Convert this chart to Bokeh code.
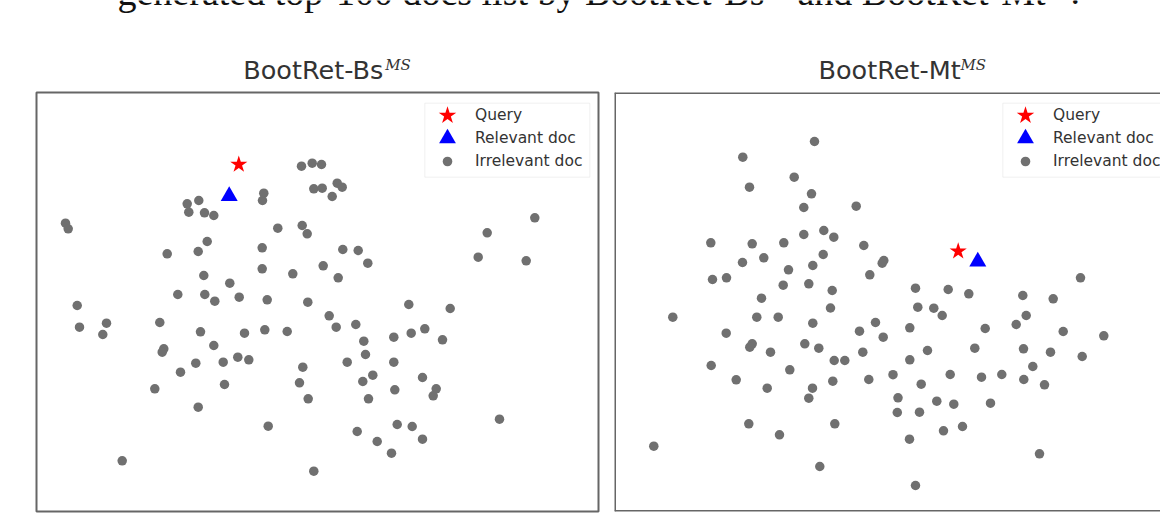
from bokeh.plotting import figure
from bokeh.models import Range1d, Label, Legend, LegendItem, BoxAnnotation, Span
from bokeh.layouts import row, column
from bokeh.embed import file_html
from bokeh.resources import INLINE

# ---------------- data (embedding coordinates) ----------------
bs_x = [301.0, 311.7, 321.0, 313.3, 321.7, 336.7, 341.7, 331.7, 263.3, 262.0,
        186.7, 198.3, 188.3, 204.0, 213.3, 65.0, 67.7, 277.3, 301.7, 306.7,
        206.7, 197.7, 166.7, 261.7, 342.3, 357.7, 367.3, 261.7, 292.3, 322.7,
        337.7, 203.3, 229.3, 534.3, 486.7, 477.7, 525.7, 76.7, 79.0, 106.0,
        102.3, 177.3, 204.3, 214.3, 238.7, 266.7, 307.3, 159.3, 200.0, 244.0,
        264.3, 286.7, 328.7, 335.7, 355.3, 363.3, 393.3, 163.3, 161.7, 213.3,
        195.3, 222.7, 237.3, 248.3, 180.0, 224.0, 154.3, 197.7, 302.3, 299.0,
        307.7, 346.7, 365.0, 393.3, 372.3, 362.3, 368.0, 394.3, 267.7, 356.7,
        376.7, 391.0, 396.7, 121.7, 313.3, 408.3, 449.7, 410.7, 424.3, 442.0,
        422.0, 435.7, 432.7, 499.0, 411.7, 422.0]
bs_y = [165.7, 162.7, 164.0, 188.3, 187.7, 182.7, 186.7, 196.0, 192.7, 200.0,
        203.3, 200.0, 211.7, 212.3, 215.0, 222.7, 228.3, 227.7, 225.0, 233.3,
        241.0, 251.0, 253.3, 247.3, 249.0, 250.0, 262.7, 268.3, 273.3, 265.3,
        277.3, 275.0, 282.7, 217.3, 232.3, 256.7, 260.3, 305.0, 326.7, 322.7,
        334.0, 294.0, 294.0, 300.7, 296.7, 299.3, 301.7, 322.0, 331.3, 332.7,
        329.3, 331.0, 315.3, 326.7, 324.0, 340.7, 336.7, 348.3, 351.7, 345.0,
        362.7, 361.7, 356.7, 359.3, 371.7, 384.0, 388.3, 406.7, 366.7, 382.3,
        398.3, 361.7, 354.0, 361.7, 374.7, 381.0, 398.3, 389.3, 425.7, 431.0,
        441.0, 452.7, 424.0, 460.3, 470.7, 304.0, 308.0, 332.7, 328.3, 339.3,
        377.0, 388.3, 395.3, 418.7, 426.0, 438.7]
bs_query = (238.3, 164.0)
bs_relevant = (228.7, 195.5)

mt_x = [814.0, 742.3, 749.0, 793.7, 811.0, 803.3, 855.7, 710.3, 751.7, 783.3,
        803.3, 823.3, 833.3, 863.3, 742.0, 763.3, 822.7, 812.3, 788.0, 883.3,
        881.7, 712.0, 726.0, 782.7, 808.3, 831.7, 869.3, 761.0, 830.0, 915.0,
        947.7, 968.3, 1022.3, 1052.7, 1080.0, 917.3, 933.3, 941.7, 1025.7, 1015.7,
        1062.7, 1103.3, 984.7, 909.3, 672.3, 756.3, 777.7, 812.3, 725.7, 751.7,
        749.3, 770.0, 804.3, 818.3, 859.0, 875.0, 882.7, 862.3, 833.7, 844.3,
        710.7, 789.3, 735.7, 766.7, 812.0, 808.3, 832.3, 868.3, 892.5, 897.5,
        896.8, 748.3, 779.0, 834.3, 653.3, 819.3, 927.0, 909.3, 974.3, 1023.0,
        1050.0, 1081.7, 920.7, 949.7, 981.0, 1001.3, 1023.3, 1032.3, 1044.0, 919.0,
        936.3, 953.3, 990.0, 943.0, 962.0, 909.0, 1039.0, 915.0]
mt_y = [141.0, 156.7, 186.7, 176.7, 193.3, 207.0, 205.7, 242.3, 243.3, 242.3,
        234.0, 230.0, 236.7, 245.0, 262.0, 257.3, 254.0, 265.0, 269.3, 260.0,
        262.7, 279.0, 277.3, 284.7, 283.3, 290.0, 274.3, 297.7, 307.5, 287.7,
        289.0, 293.3, 295.0, 298.3, 277.3, 306.7, 307.7, 315.0, 315.0, 324.0,
        331.0, 335.3, 328.0, 327.3, 316.7, 316.7, 316.7, 322.7, 332.7, 343.3,
        346.7, 351.7, 343.3, 347.7, 330.7, 322.0, 336.7, 351.7, 360.0, 360.0,
        365.0, 369.3, 379.3, 387.7, 387.7, 397.7, 380.7, 379.0, 374.2, 397.3,
        412.0, 423.3, 434.3, 423.3, 445.7, 466.0, 350.0, 359.3, 347.7, 348.3,
        351.7, 356.0, 383.7, 374.0, 376.7, 374.0, 379.0, 366.0, 384.3, 411.7,
        400.7, 403.7, 402.7, 430.3, 426.0, 438.7, 453.3, 485.0]
mt_query = (957.7, 250.7)
mt_relevant = (977.3, 261.0)

titles = ["BootRet-Bs", "BootRet-Mt"]
title_sup = "MS"
legend_labels = ["Query", "Relevant doc", "Irrelevant doc"]
caption_parts = ["generated top-100 docs list by BootRet-Bs", "and BootRet-Mt", "."]

# ---------------- styles ----------------
GRAY = "#707070"
BORDER = "#666666"
TEXT = "#333333"
SANS = "DejaVu Sans"

STRIP_H = 90
PANEL_H = 513 - STRIP_H
Y_TOP, Y_BOT = 92, 511

# ---------------- top strip: caption + panel titles ----------------
strip = figure(width=1160, height=STRIP_H, x_range=Range1d(0, 1160),
               y_range=Range1d(STRIP_H, 0), x_axis_type=None, y_axis_type=None,
               toolbar_location=None, output_backend="svg", min_border=0,
               outline_line_color=None, background_fill_color="white",
               border_fill_color="white")
strip.grid.visible = False
for txt, x in zip(caption_parts, [117, 797, 1070]):
    strip.add_layout(Label(x=x, y=-9, text=txt, text_font="Liberation Serif",
                           text_font_size="38px", text_color="#111111",
                           text_baseline="alphabetic", text_align="left"))
for x in [765, 1047]:
    strip.add_layout(Label(x=x, y=-20, text=title_sup, text_font="Liberation Serif",
                           text_font_style="italic", text_font_size="24px",
                           text_color="#111111", text_baseline="alphabetic"))
for title, tx in zip(titles, [242.7, 818.0]):
    strip.add_layout(Label(x=tx, y=69, text=title, text_font=SANS,
                           text_font_size="25.5px", text_color=TEXT,
                           text_baseline="alphabetic"))
    strip.add_layout(Label(x=tx + 142, y=64, text=title_sup, text_font="DejaVu Serif",
                           text_font_style="italic", text_font_size="15px",
                           text_color=TEXT, text_baseline="alphabetic"))


def make_panel(xs, ys, q, r, x0, x1, width, bl, br):
    p = figure(width=width, height=PANEL_H, x_range=Range1d(x0, x1),
               y_range=Range1d(Y_BOT, Y_TOP), x_axis_type=None, y_axis_type=None,
               toolbar_location=None, output_backend="svg",
               min_border_left=bl, min_border_right=br, min_border_top=2,
               min_border_bottom=2, background_fill_color="white",
               border_fill_color="white")
    p.grid.visible = False
    gr = p.scatter(xs, ys, size=9.5, color=GRAY, line_color=None)
    rr = p.scatter([r[0]], [r[1]], marker="triangle", size=17, color="#0000ff",
                   line_color=None)
    qr = p.scatter([q[0]], [q[1]], marker="star", size=18, color="#ff0000",
                   line_color=None)
    # legend box
    lx = x0 + 388.3
    p.add_layout(BoxAnnotation(left=lx, right=lx + 165, top=102.7, bottom=176.7,
                               fill_color="white", fill_alpha=0.85,
                               line_color="#cfcfcf", line_width=1))
    marker_rel, text_rel = 410.6, 438.2
    for rend, lab, yc, g in zip([qr, rr, gr], legend_labels, [114.6, 138.3, 160.7],
                                [46, 42, 24]):
        lg = Legend(items=[LegendItem(label=lab, renderers=[rend])],
                    location=(round(marker_rel - g / 2), round(Y_BOT - yc - g / 2)),
                    glyph_width=g, glyph_height=g, label_height=g,
                    label_standoff=round(text_rel - marker_rel - g / 2),
                    padding=0, margin=0, spacing=0,
                    background_fill_alpha=0, border_line_alpha=0,
                    label_text_font=SANS, label_text_font_size="15.5px",
                    label_text_color=TEXT)
        p.add_layout(lg)
    return p


left = make_panel(bs_x, bs_y, bs_query, bs_relevant, 36, 598, 606, 36, 8)
left.outline_line_color = BORDER
left.outline_line_width = 2

right = make_panel(mt_x, mt_y, mt_query, mt_relevant, 614, 1160, 554, 8, 0)
right.outline_line_color = None
for loc, dim in [(Y_TOP + 0.5, "width"), (Y_BOT - 0.5, "width"), (614.5, "height")]:
    right.add_layout(Span(location=loc, dimension=dim, line_color=BORDER, line_width=2))

layout = column(strip, row(left, right))
open("out.html", "w").write(file_html(layout, INLINE))
